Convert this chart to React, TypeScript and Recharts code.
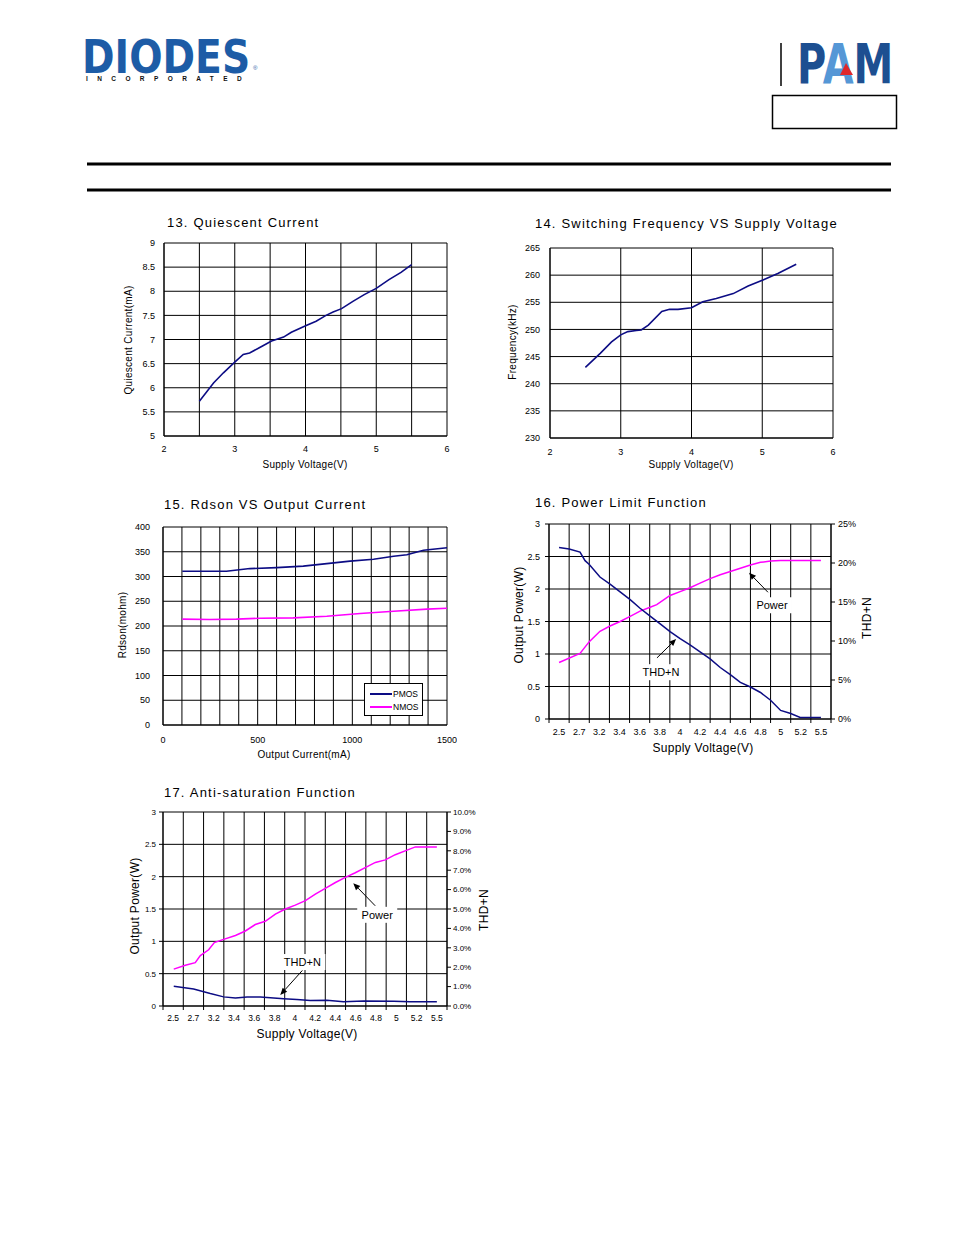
import React from "react";
import {
  CartesianGrid,
  Legend,
  Line,
  LineChart,
  ReferenceDot,
  ReferenceLine,
  XAxis,
  YAxis,
} from "recharts";

const FONT = '"Liberation Sans", Arial, Helvetica, sans-serif';
const NAVY = "#0c0c84";
const MAGENTA = "#ff00ff";

// 13. Quiescent Current
const volt13 = [2.5, 2.7, 2.84, 3.0, 3.12, 3.21, 3.36, 3.52, 3.69, 3.8, 4.01, 4.15, 4.29, 4.39, 4.51, 4.67, 4.83, 5.0, 5.18, 5.35, 5.5];
const iq13 = [5.72, 6.1, 6.31, 6.53, 6.69, 6.72, 6.84, 6.97, 7.05, 7.15, 7.29, 7.38, 7.5, 7.57, 7.64, 7.79, 7.93, 8.06, 8.24, 8.39, 8.55];
const xTicks13 = [2, 2.5, 3, 3.5, 4, 4.5, 5, 5.5, 6];
const yTicks13 = [5, 5.5, 6, 6.5, 7, 7.5, 8, 8.5, 9];

// 14. Switching Frequency VS Supply Voltage
const volt14 = [2.5, 2.71, 2.87, 3.0, 3.1, 3.22, 3.29, 3.39, 3.58, 3.69, 3.81, 4.0, 4.16, 4.35, 4.59, 4.8, 5.01, 5.22, 5.48];
const freq14 = [243.0, 245.6, 247.7, 249.0, 249.6, 249.8, 249.9, 250.8, 253.3, 253.7, 253.7, 254.0, 255.1, 255.7, 256.6, 258.0, 259.1, 260.3, 262.0];
const xTicks14 = [2, 3, 4, 5, 6];
const yTicks14 = [230, 235, 240, 245, 250, 255, 260, 265];

// 15. Rdson VS Output Current
const curP15 = [102, 194, 335, 459, 600, 741, 865, 988, 1112, 1218, 1288, 1376, 1500];
const pmos15 = [310.6, 310.6, 310.6, 316, 318, 321, 326, 331, 335, 341, 344, 353, 358];
const curN15 = [102, 247, 388, 512, 688, 865, 1041, 1218, 1394, 1500];
const nmos15 = [213.8, 213.1, 213.8, 215.8, 216.5, 219.8, 225.2, 229.9, 234, 236];
const xTicks15 = [0, 100, 200, 300, 400, 500, 600, 700, 800, 900, 1000, 1100, 1200, 1300, 1400, 1500];
const yTicks15 = [0, 50, 100, 150, 200, 250, 300, 350, 400];
const legend15 = ["PMOS", "NMOS"];

// 16. Power Limit Function (x = position along the category axis)
const cats = ["2.5", "2.7", "3.2", "3.4", "3.6", "3.8", "4", "4.2", "4.4", "4.6", "4.8", "5", "5.2", "5.5"];
const catTicks = [0, 1, 2, 3, 4, 5, 6, 7, 8, 9, 10, 11, 12, 13, 14];
const powPos16 = [0.5, 1.54, 2.0, 2.53, 3.03, 3.53, 4.03, 4.52, 5.02, 5.35, 6.01, 6.51, 7.0, 7.5, 8.0, 8.5, 9.0, 9.5, 10.0, 10.5, 11.0, 11.5, 13.5];
const power16 = [0.87, 1.01, 1.19, 1.35, 1.43, 1.5, 1.58, 1.66, 1.72, 1.76, 1.9, 1.96, 2.02, 2.09, 2.16, 2.22, 2.27, 2.32, 2.37, 2.41, 2.43, 2.44, 2.44];
const thdPos16 = [0.5, 1.0, 1.54, 1.79, 2.0, 2.53, 3.03, 3.53, 4.03, 4.52, 5.02, 5.52, 6.01, 6.51, 7.0, 7.5, 8.0, 8.5, 9.0, 9.5, 10.0, 10.5, 11.0, 11.5, 12.0, 12.47, 13.5];
const thd16 = [22.0, 21.8, 21.4, 20.3, 19.8, 18.2, 17.3, 16.3, 15.3, 14.2, 13.2, 12.2, 11.2, 10.3, 9.5, 8.6, 7.7, 6.6, 5.7, 4.7, 4.1, 3.4, 2.4, 1.1, 0.7, 0.2, 0.2];
const wTicks = [0, 0.5, 1, 1.5, 2, 2.5, 3];
const pctTicks16 = [0, 5, 10, 15, 20, 25];

// 17. Anti-saturation Function
const powPos17 = [0.53, 1.1, 1.59, 1.84, 2.25, 2.53, 2.99, 3.57, 4.06, 4.55, 5.04, 5.54, 6.03, 6.52, 7.02, 7.51, 8.0, 8.5, 8.99, 9.48, 9.97, 10.47, 10.96, 11.45, 12.03, 12.44, 13.0, 13.5];
const power17 = [0.57, 0.63, 0.67, 0.78, 0.87, 0.98, 1.03, 1.09, 1.16, 1.26, 1.31, 1.42, 1.5, 1.56, 1.63, 1.73, 1.82, 1.91, 1.99, 2.06, 2.14, 2.22, 2.26, 2.34, 2.41, 2.46, 2.46, 2.46];
const thdPos17 = [0.53, 1.51, 2.33, 2.99, 3.57, 4.14, 4.8, 5.29, 5.95, 6.6, 7.26, 8.08, 8.9, 9.9, 11.37, 12.19, 13.5];
const thd17 = [1.02, 0.88, 0.64, 0.47, 0.41, 0.47, 0.47, 0.43, 0.38, 0.33, 0.28, 0.29, 0.22, 0.26, 0.24, 0.22, 0.22];
const pctTicks17 = [0, 1, 2, 3, 4, 5, 6, 7, 8, 9, 10];

const zip = (xs: number[], ys: number[]) => xs.map((x, i) => ({ x, y: ys[i] }));

const tickStyle = (size: number) => ({ fontSize: size, fill: "#000", fontFamily: FONT });

const Title = ({ x, y, children }: { x: number; y: number; children: React.ReactNode }) => (
  <div
    style={{
      position: "absolute",
      left: x,
      top: y,
      transform: "translateY(-50%)",
      fontSize: 13,
      letterSpacing: 1.2,
      fontFamily: FONT,
      whiteSpace: "nowrap",
      lineHeight: 1,
    }}
  >
    {children}
  </div>
);

const CText = ({ x, y, size, rot, children }: { x: number; y: number; size: number; rot?: boolean; children: React.ReactNode }) => (
  <div
    style={{
      position: "absolute",
      left: x,
      top: y,
      transform: `translate(-50%,-50%)${rot ? " rotate(-90deg)" : ""}`,
      fontSize: size,
      letterSpacing: 0.3,
      fontFamily: FONT,
      whiteSpace: "nowrap",
      lineHeight: 1,
    }}
  >
    {children}
  </div>
);

// tick label centred in the band to the right of the boundary tick
const bandTick = (band: number, size: number) => (p: any) => {
  const i = p.payload?.value;
  if (i >= cats.length) return <g />;
  return (
    <text x={p.x + band / 2} y={p.y} dy="0.71em" textAnchor="middle" fontSize={size} fontFamily={FONT} fill="#000">
      {cats[i]}
    </text>
  );
};

const arrowShape = (p: any) => {
  const { x1, y1, x2, y2 } = p;
  const a = Math.atan2(y2 - y1, x2 - x1);
  const len = 7;
  const w = 3;
  const bx = x2 - len * Math.cos(a);
  const by = y2 - len * Math.sin(a);
  const pts = `${x2},${y2} ${bx - w * Math.sin(a)},${by + w * Math.cos(a)} ${bx + w * Math.sin(a)},${by - w * Math.cos(a)}`;
  return (
    <g>
      <line x1={x1} y1={y1} x2={bx} y2={by} stroke="#000" strokeWidth={1} />
      <polygon points={pts} fill="#000" />
    </g>
  );
};

const boxLabel = (text: string, w: number, size: number) => (p: any) => (
  <g>
    <rect x={p.cx - w / 2} y={p.cy - 8} width={w} height={16} fill="#fff" />
    <text x={p.cx} y={p.cy} dy="0.36em" textAnchor="middle" fontSize={size} fontFamily={FONT} fill="#000">
      {text}
    </text>
  </g>
);

function Chart13() {
  return (
    <div style={{ position: "absolute", left: 114, top: 233 }}>
      <LineChart width={343} height={233} margin={{ top: 10, right: 10, left: 0, bottom: 0 }}>
        <CartesianGrid stroke="#000" strokeWidth={1} />
        <XAxis
          type="number"
          dataKey="x"
          domain={[2, 6]}
          ticks={xTicks13}
          interval={0}
          tickFormatter={(v: number) => (Number.isInteger(v) ? String(v) : "")}
          axisLine={{ stroke: "#000" }}
          tickLine={false}
          tickSize={0}
          tickMargin={10}
          height={30}
          tick={tickStyle(9)}
        />
        <YAxis
          type="number"
          domain={[5, 9]}
          ticks={yTicks13}
          interval={0}
          width={50}
          axisLine={{ stroke: "#000" }}
          tickLine={false}
          tickSize={0}
          tickMargin={9}
          tick={tickStyle(9)}
        />
        <Line data={zip(volt13, iq13)} dataKey="y" stroke={NAVY} strokeWidth={1.6} dot={false} isAnimationActive={false} />
      </LineChart>
    </div>
  );
}

function Chart14() {
  return (
    <div style={{ position: "absolute", left: 500, top: 238 }}>
      <LineChart width={343} height={230} margin={{ top: 10, right: 10, left: 0, bottom: 0 }}>
        <CartesianGrid stroke="#000" strokeWidth={1} />
        <XAxis
          type="number"
          dataKey="x"
          domain={[2, 6]}
          ticks={xTicks14}
          interval={0}
          axisLine={{ stroke: "#000" }}
          tickLine={false}
          tickSize={0}
          tickMargin={11}
          height={30}
          tick={tickStyle(9)}
        />
        <YAxis
          type="number"
          domain={[230, 265]}
          ticks={yTicks14}
          interval={0}
          width={50}
          axisLine={{ stroke: "#000" }}
          tickLine={false}
          tickSize={0}
          tickMargin={10}
          tick={tickStyle(9)}
        />
        <Line data={zip(volt14, freq14)} dataKey="y" stroke={NAVY} strokeWidth={1.6} dot={false} isAnimationActive={false} />
      </LineChart>
    </div>
  );
}

function Chart15() {
  const colors = [NAVY, MAGENTA];
  return (
    <div style={{ position: "absolute", left: 113, top: 517 }}>
      <LineChart width={344} height={238} margin={{ top: 10, right: 10, left: 0, bottom: 0 }}>
        <CartesianGrid stroke="#000" strokeWidth={1} />
        <XAxis
          type="number"
          dataKey="x"
          domain={[0, 1500]}
          ticks={xTicks15}
          interval={0}
          tickFormatter={(v: number) => (v % 500 === 0 ? String(v) : "")}
          axisLine={{ stroke: "#000" }}
          tickLine={false}
          tickSize={0}
          tickMargin={12}
          height={30}
          tick={tickStyle(9)}
        />
        <YAxis
          type="number"
          domain={[0, 400]}
          ticks={yTicks15}
          interval={0}
          width={50}
          axisLine={{ stroke: "#000" }}
          tickLine={false}
          tickSize={0}
          tickMargin={13}
          tick={tickStyle(9)}
        />
        <Line data={zip(curP15, pmos15)} dataKey="y" name="PMOS" stroke={NAVY} strokeWidth={1.6} dot={false} isAnimationActive={false} />
        <Line data={zip(curN15, nmos15)} dataKey="y" name="NMOS" stroke={MAGENTA} strokeWidth={1.6} dot={false} isAnimationActive={false} />
        <Legend
          layout="vertical"
          align="center"
          verticalAlign="middle"
          wrapperStyle={{ left: 251, top: 166, width: 59, height: 33 }}
          content={() => (
            <div
              style={{
                width: 59,
                height: 33,
                boxSizing: "border-box",
                border: "1px solid #000",
                background: "#fff",
                padding: "3px 0 0 5px",
              }}
            >
              {legend15.map((n, i) => (
                <div key={n} style={{ display: "flex", alignItems: "center", height: 13 }}>
                  <div style={{ width: 22, height: 2, background: colors[i], marginRight: 1 }} />
                  <span style={{ fontSize: 8.5, fontFamily: FONT }}>{n}</span>
                </div>
              ))}
            </div>
          )}
        />
      </LineChart>
    </div>
  );
}

function Chart16() {
  const band = 282 / 14;
  return (
    <div style={{ position: "absolute", left: 509, top: 514 }}>
      <LineChart width={367} height={235} margin={{ top: 10, right: 0, left: 0, bottom: 0 }}>
        <CartesianGrid stroke="#000" strokeWidth={1} yAxisId="w" />
        <XAxis
          type="number"
          dataKey="x"
          domain={[0, 14]}
          ticks={catTicks}
          interval={0}
          axisLine={{ stroke: "#000" }}
          tickLine={{ stroke: "#000" }}
          tickSize={4}
          tickMargin={6}
          height={30}
          tick={bandTick(band, 9)}
        />
        <YAxis
          yAxisId="w"
          type="number"
          domain={[0, 3]}
          ticks={wTicks}
          interval={0}
          width={40}
          axisLine={{ stroke: "#000" }}
          tickLine={{ stroke: "#000" }}
          tickSize={4}
          tickMargin={5}
          tick={tickStyle(9)}
        />
        <YAxis
          yAxisId="p"
          orientation="right"
          type="number"
          domain={[0, 25]}
          ticks={pctTicks16}
          interval={0}
          width={45}
          tickFormatter={(v: number) => `${v}%`}
          axisLine={{ stroke: "#000" }}
          tickLine={{ stroke: "#000" }}
          tickSize={4}
          tickMargin={3}
          tick={tickStyle(9)}
        />
        <Line yAxisId="w" data={zip(powPos16, power16)} dataKey="y" stroke={MAGENTA} strokeWidth={1.5} dot={false} isAnimationActive={false} />
        <Line yAxisId="p" data={zip(thdPos16, thd16)} dataKey="y" stroke={NAVY} strokeWidth={1.5} dot={false} isAnimationActive={false} />
        <ReferenceLine yAxisId="w" segment={[{ x: 10.87, y: 1.95 }, { x: 9.93, y: 2.25 }]} shape={arrowShape} />
        <ReferenceLine yAxisId="w" segment={[{ x: 5.36, y: 0.94 }, { x: 6.31, y: 1.23 }]} shape={arrowShape} />
        <ReferenceDot yAxisId="w" x={11.07} y={1.75} shape={boxLabel("Power", 40, 11)} />
        <ReferenceDot yAxisId="w" x={5.56} y={0.72} shape={boxLabel("THD+N", 46, 11)} />
      </LineChart>
    </div>
  );
}

function Chart17() {
  const band = 284 / 14;
  return (
    <div style={{ position: "absolute", left: 123, top: 802 }}>
      <LineChart width={374} height={234} margin={{ top: 10, right: 0, left: 0, bottom: 0 }}>
        <CartesianGrid stroke="#000" strokeWidth={1} yAxisId="w" />
        <XAxis
          type="number"
          dataKey="x"
          domain={[0, 14]}
          ticks={catTicks}
          interval={0}
          axisLine={{ stroke: "#000" }}
          tickLine={{ stroke: "#000" }}
          tickSize={4}
          tickMargin={5}
          height={30}
          tick={bandTick(band, 8.5)}
        />
        <YAxis
          yAxisId="w"
          type="number"
          domain={[0, 3]}
          ticks={wTicks}
          interval={0}
          width={40}
          axisLine={{ stroke: "#000" }}
          tickLine={{ stroke: "#000" }}
          tickSize={4}
          tickMargin={3}
          tick={tickStyle(8)}
        />
        <YAxis
          yAxisId="p"
          orientation="right"
          type="number"
          domain={[0, 10]}
          ticks={pctTicks17}
          interval={0}
          width={50}
          tickFormatter={(v: number) => `${v.toFixed(1)}%`}
          axisLine={{ stroke: "#000" }}
          tickLine={{ stroke: "#000" }}
          tickSize={4}
          tickMargin={2}
          tick={tickStyle(8)}
        />
        <Line yAxisId="w" data={zip(powPos17, power17)} dataKey="y" stroke={MAGENTA} strokeWidth={1.5} dot={false} isAnimationActive={false} />
        <Line yAxisId="p" data={zip(thdPos17, thd17)} dataKey="y" stroke={NAVY} strokeWidth={1.5} dot={false} isAnimationActive={false} />
        <ReferenceLine yAxisId="w" segment={[{ x: 10.46, y: 1.55 }, { x: 9.38, y: 1.9 }]} shape={arrowShape} />
        <ReferenceLine yAxisId="w" segment={[{ x: 6.87, y: 0.55 }, { x: 5.78, y: 0.17 }]} shape={arrowShape} />
        <ReferenceDot yAxisId="w" x={10.56} y={1.41} shape={boxLabel("Power", 40, 11)} />
        <ReferenceDot yAxisId="w" x={6.87} y={0.68} shape={boxLabel("THD+N", 46, 11)} />
      </LineChart>
    </div>
  );
}

function Header() {
  return (
    <>
      <svg width={954} height={200} style={{ position: "absolute", left: 0, top: 0 }}>
        <text
          transform="translate(82,73) scale(0.853,1)"
          fontSize={46}
          fontWeight="bold"
          fontFamily='"DejaVu Sans", sans-serif'
          fill="#1d5ca6"
        >
          DIODES
        </text>
        <text x={253} y={70} fontSize={6} fontFamily={FONT} fill="#1d5ca6">®</text>
        <text x={86} y={81} fontSize={6.5} fontWeight="bold" fill="#111" fontFamily={FONT} letterSpacing={9.4}>
          INCORPORATED
        </text>
        <line x1={781} y1={43} x2={781} y2={86} stroke="#000" strokeWidth={1.5} />
        <rect x={772.5} y={95.5} width={124} height={33} fill="none" stroke="#000" strokeWidth={1.5} />
        <line x1={87} y1={164} x2={891} y2={164} stroke="#000" strokeWidth={3} />
        <line x1={87} y1={190} x2={891} y2={190} stroke="#000" strokeWidth={3} />
      </svg>
      <div
        style={{
          position: "absolute",
          left: 797,
          top: 44,
          fontSize: 55,
          lineHeight: "40px",
          height: 40,
          fontWeight: "bold",
          fontFamily: '"DejaVu Sans", sans-serif',
          whiteSpace: "nowrap",
          transform: "scaleX(0.727)",
          transformOrigin: "0 0",
        }}
      >
        <span style={{ color: "#1d4f91" }}>P</span>
        <span style={{ color: "#5597d6" }}>A</span>
        <span style={{ color: "#1d4f91" }}>M</span>
      </div>
      <svg width={20} height={20} style={{ position: "absolute", left: 838, top: 60 }}>
        <polygon points="8,3 2,15 15,15" fill="#e0262b" />
      </svg>
    </>
  );
}

export default function App() {
  return (
    <div style={{ position: "absolute", left: 0, top: 0, width: 954, height: 1235, background: "#fff", fontFamily: FONT }}>
      <Header />

      <Title x={167} y={222}>13. Quiescent Current</Title>
      <Chart13 />
      <CText x={129} y={340} size={10} rot>Quiescent Current(mA)</CText>
      <CText x={305} y={465} size={10}>Supply Voltage(V)</CText>

      <Title x={535} y={223}>14. Switching Frequency VS Supply Voltage</Title>
      <Chart14 />
      <CText x={513} y={342} size={10} rot>Frequency(kHz)</CText>
      <CText x={691} y={465} size={10}>Supply Voltage(V)</CText>

      <Title x={164} y={504}>15. Rdson VS Output Current</Title>
      <Chart15 />
      <CText x={123} y={625} size={10} rot>Rdson(mohm)</CText>
      <CText x={304} y={755} size={10}>Output Current(mA)</CText>

      <Title x={535} y={502}>16. Power Limit Function</Title>
      <Chart16 />
      <CText x={519} y={615} size={12} rot>Output Power(W)</CText>
      <CText x={867} y={618} size={12} rot>THD+N</CText>
      <CText x={703} y={748} size={12}>Supply Voltage(V)</CText>

      <Title x={164} y={792}>17. Anti-saturation Function</Title>
      <Chart17 />
      <CText x={135} y={906} size={12} rot>Output Power(W)</CText>
      <CText x={484} y={910} size={12} rot>THD+N</CText>
      <CText x={307} y={1034} size={12}>Supply Voltage(V)</CText>
    </div>
  );
}
